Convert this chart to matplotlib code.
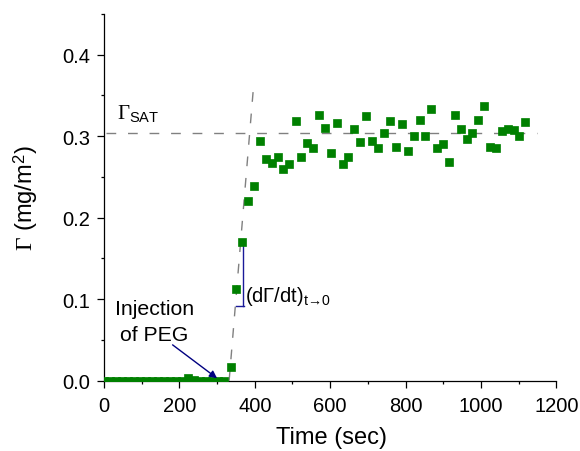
import matplotlib
matplotlib.use('Agg')
import matplotlib.pyplot as plt
from matplotlib.ticker import MultipleLocator

plt.rcParams['font.family'] = ['Liberation Sans', 'DejaVu Sans']
plt.rcParams['mathtext.fontset'] = 'custom'
plt.rcParams['mathtext.rm'] = 'Liberation Serif'
plt.rcParams['mathtext.it'] = 'Liberation Serif:italic'
plt.rcParams['mathtext.sf'] = 'Liberation Sans'

# adsorbed amount vs time
time_s = [0, 16, 32, 48, 64, 79, 95, 111, 127, 143, 159, 175, 191, 207,
          223, 238, 254, 270, 286, 302, 318,
          336, 350, 367, 383, 399, 414, 430, 445, 461, 476, 492, 509, 524,
          539, 555, 570, 586, 602, 617, 633, 648, 664, 679, 695, 711, 726,
          742, 759, 775, 791, 807, 822, 838, 852, 868, 884, 899, 915, 931,
          946, 962, 977, 992, 1008, 1024, 1039, 1055, 1071, 1087, 1101, 1117]
gamma = [0, 0, 0, 0, 0, 0, 0, 0, 0, 0, 0, 0, 0, 0,
         0.003, 0.001, 0, 0, 0, 0, 0,
         0.017, 0.113, 0.170, 0.220, 0.239, 0.294, 0.272, 0.267, 0.274,
         0.260, 0.266, 0.319, 0.275, 0.292, 0.286, 0.326, 0.310, 0.279,
         0.316, 0.266, 0.275, 0.309, 0.293, 0.325, 0.294, 0.285, 0.304,
         0.319, 0.287, 0.315, 0.282, 0.300, 0.320, 0.300, 0.333, 0.286,
         0.290, 0.268, 0.326, 0.309, 0.297, 0.304, 0.320, 0.337, 0.287,
         0.285, 0.307, 0.309, 0.308, 0.300, 0.317]

gamma_sat = 0.304
sat_t = [5, 1148]
tan_t = [332, 398]
tan_g = [0, 0.368]

fig = plt.figure(figsize=(5.8, 4.52), dpi=100)
ax = fig.add_axes([0.1793, 0.1555, 0.7798, 0.8113])

# saturation level and initial slope
ax.plot(sat_t, [gamma_sat, gamma_sat], color='#808080', lw=1.0,
        linestyle=(0, (7, 8.5)), zorder=1)
ax.plot(tan_t, tan_g, color='#808080', lw=1.0,
        linestyle=(0, (7, 8.5)), zorder=1)

ax.plot(time_s, gamma, 's', color='#008000', mec='#008000', ms=6.2,
        mew=0.5, zorder=3)

# slope bracket
blue = '#1a1a99'
ax.plot([368, 368], [0.170, 0.092], color=blue, lw=1.0, zorder=2)
ax.plot([350, 371], [0.092, 0.092], color=blue, lw=1.0, zorder=2)
ax.text(374, 0.098, r'$\mathregular{(d\Gamma/dt)_{t→0}}$',
        fontsize=14.5, va='baseline', ha='left')

ax.text(35, 0.322, r'$\Gamma_{\mathregular{SAT}}$', fontsize=15,
        va='baseline', ha='left')

ax.text(134.5, 0.0818, 'Injection', fontsize=15.3, ha='center',
        va='baseline')
ax.text(134.5, 0.0503, 'of PEG', fontsize=15.3, ha='center',
        va='baseline')
ax.annotate('', xy=(300, 0.003), xytext=(182, 0.044),
            arrowprops=dict(arrowstyle='-|>', color='#000080', lw=1.0,
                            mutation_scale=11, shrinkA=0, shrinkB=0))

ax.set_xlim(0, 1200)
ax.set_ylim(0, 0.45)
ax.xaxis.set_major_locator(MultipleLocator(200))
ax.xaxis.set_minor_locator(MultipleLocator(100))
ax.yaxis.set_major_locator(MultipleLocator(0.1))
ax.yaxis.set_minor_locator(MultipleLocator(0.05))
ax.yaxis.set_major_formatter(plt.FormatStrFormatter('%.1f'))

for side in ['top', 'right']:
    ax.spines[side].set_visible(False)
for side in ['left', 'bottom']:
    ax.spines[side].set_linewidth(0.9)

ax.tick_params(which='major', direction='out', length=5, width=0.9,
               labelsize=14.5)
ax.tick_params(which='minor', direction='out', length=2.5, width=0.9)
ax.tick_params(axis='x', which='major', pad=6)
ax.tick_params(axis='y', which='major', pad=5)

ax.set_xlabel('Time (sec)', fontsize=17)
ax.set_ylabel(r'$\Gamma$ (mg/m$^\mathregular{2}$)', fontsize=17)
ax.xaxis.set_label_coords(0.503, -0.124)
ax.yaxis.set_label_coords(-0.142, 0.5)

plt.savefig('out.png', dpi=100)
